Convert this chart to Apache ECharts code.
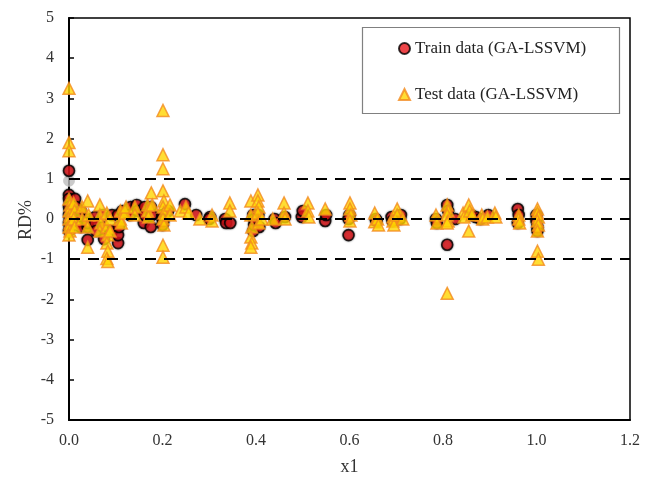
<!DOCTYPE html>
<html>
<head>
<meta charset="utf-8">
<script src="https://cdn.jsdelivr.net/npm/echarts@6/dist/echarts.min.js"></script>
<style>
  html, body { margin: 0; padding: 0; background: #fff; }
  #chart { width: 656px; height: 481px; }
</style>
</head>
<body>
<div id="chart"></div>
<script>
// Relative deviation (RD%) of the GA-LSSVM model against x1
const xTicks = [0, 0.2, 0.4, 0.6, 0.8, 1.0, 1.2];
const yTicks = [-5, -4, -3, -2, -1, 0, 1, 2, 3, 4, 5];
const guideLevels = [1, 0, -1];
const yTitle = 'RD%';

// [x1, RD%] for training points
const trainPoints = [
  [0.000, 1.20], [0.000, 0.60], [0.000, 0.50], [0.002, 0.40], [0.000, 0.30], [0.002, 0.20],
  [0.000, 0.10], [0.002, 0.00], [0.000, -0.10], [0.002, -0.20], [0.000, -0.30],
  [0.013, 0.50], [0.015, 0.30], [0.013, 0.10], [0.015, -0.10],
  [0.025, 0.20], [0.027, 0.00], [0.025, -0.20],
  [0.040, -0.52], [0.040, -0.20], [0.042, 0.00], [0.040, -0.10],
  [0.056, 0.05], [0.056, -0.10], [0.058, -0.30],
  [0.073, 0.10], [0.073, -0.20], [0.075, -0.50],
  [0.092, 0.10], [0.092, -0.30],
  [0.105, -0.60], [0.105, -0.40], [0.107, -0.20], [0.105, 0.10],
  [0.114, 0.20], [0.130, 0.20], [0.132, 0.30], [0.130, 0.10],
  [0.145, 0.35], [0.147, 0.20],
  [0.162, 0.30], [0.160, -0.10], [0.162, 0.10],
  [0.175, 0.30], [0.177, 0.10], [0.175, -0.20],
  [0.200, 0.10], [0.200, 0.00], [0.202, -0.05], [0.200, -0.15], [0.212, 0.20],
  [0.248, 0.37], [0.272, 0.10], [0.302, 0.05], [0.300, 0.00],
  [0.334, 0.00], [0.336, -0.10], [0.345, -0.10],
  [0.394, -0.30], [0.396, -0.15], [0.394, 0.10], [0.396, 0.00],
  [0.405, 0.10], [0.407, -0.20],
  [0.440, 0.00], [0.442, -0.10], [0.462, 0.05],
  [0.498, 0.05], [0.500, 0.20],
  [0.548, -0.05], [0.550, 0.10],
  [0.598, -0.40], [0.600, 0.10], [0.598, 0.00],
  [0.656, 0.00], [0.658, -0.05],
  [0.690, 0.05], [0.692, -0.05], [0.708, 0.00], [0.710, 0.10],
  [0.785, 0.00], [0.787, -0.10],
  [0.809, 0.35], [0.811, 0.20], [0.809, -0.64], [0.826, 0.00],
  [0.860, 0.10], [0.870, 0.05], [0.880, 0.00], [0.897, 0.10],
  [0.960, 0.25], [0.962, 0.10], [0.960, -0.10],
  [1.000, -0.05], [1.002, -0.20], [1.000, 0.10], [1.002, -0.30]
];

// [x1, RD%] for test points
const testPoints = [
  [0.000, 3.25], [0.000, 1.90], [0.000, 1.70], [0.000, 0.50], [0.002, 0.35], [0.000, 0.20],
  [0.002, 0.10], [0.000, 0.00], [0.002, -0.10], [0.000, -0.20], [0.002, -0.30], [0.000, -0.40],
  [0.010, 0.40], [0.012, 0.20], [0.010, 0.00], [0.012, -0.20],
  [0.028, 0.30], [0.028, 0.00],
  [0.040, 0.45], [0.042, 0.10], [0.040, -0.20], [0.040, -0.70],
  [0.066, 0.35], [0.066, 0.10], [0.068, -0.10], [0.066, -0.30],
  [0.081, 0.15], [0.081, -0.20], [0.083, -0.40], [0.081, -0.60], [0.083, -0.80], [0.081, -0.98], [0.083, -1.06],
  [0.088, 0.00], [0.088, -0.30],
  [0.110, 0.20], [0.110, 0.00], [0.112, -0.10],
  [0.120, 0.15], [0.122, 0.30],
  [0.141, 0.30], [0.141, 0.10],
  [0.168, 0.35], [0.168, 0.20], [0.170, 0.05],
  [0.176, 0.65], [0.178, 0.35],
  [0.201, 2.70], [0.201, 1.60], [0.201, 1.25], [0.201, 0.70], [0.203, 0.45], [0.201, 0.30],
  [0.203, 0.15], [0.201, 0.00], [0.203, -0.15], [0.201, -0.65], [0.201, -0.95],
  [0.216, 0.35], [0.216, 0.10],
  [0.238, 0.20], [0.250, 0.30], [0.256, 0.15],
  [0.280, 0.00], [0.306, 0.10], [0.306, -0.05],
  [0.344, 0.40], [0.344, 0.20],
  [0.389, 0.45], [0.389, 0.10], [0.391, -0.20], [0.389, -0.45], [0.391, -0.60], [0.389, -0.70],
  [0.404, 0.60], [0.404, 0.45], [0.406, 0.30], [0.404, 0.15], [0.406, -0.10],
  [0.413, 0.00], [0.436, 0.00],
  [0.460, 0.40], [0.460, 0.15], [0.462, 0.00],
  [0.511, 0.40], [0.511, 0.20], [0.513, 0.05],
  [0.548, 0.25],
  [0.601, 0.40], [0.601, 0.25], [0.603, 0.10], [0.601, -0.05],
  [0.654, 0.15], [0.654, -0.07], [0.660, 0.00], [0.662, -0.15],
  [0.693, 0.05], [0.693, -0.05], [0.695, -0.15],
  [0.702, 0.25], [0.702, 0.10], [0.714, 0.00],
  [0.785, 0.10], [0.787, -0.10],
  [0.809, 0.35], [0.811, 0.20], [0.809, 0.10], [0.811, -0.05], [0.809, -0.10], [0.809, -1.85],
  [0.843, 0.15], [0.845, 0.05],
  [0.855, 0.35], [0.857, 0.20], [0.855, -0.30], [0.862, 0.10],
  [0.883, 0.10], [0.885, 0.00], [0.895, 0.05],
  [0.911, 0.15], [0.913, 0.05],
  [0.962, 0.10], [0.962, 0.00], [0.964, -0.10],
  [1.002, 0.25], [1.002, 0.15], [1.004, 0.05], [1.002, -0.05], [1.004, -0.15], [1.002, -0.30],
  [1.002, -0.80], [1.004, -1.00]
];

// single faded reference point on the y axis
const greyPoints = [[0.000, 0.95]];

const serif = '"Liberation Serif", "Times New Roman", serif';
const textColor = '#333333';
const chart = echarts.init(document.getElementById('chart'), null, { renderer: 'canvas' });

chart.setOption({
  animation: false,
  backgroundColor: '#ffffff',
  grid: {
    left: 69, right: 26, top: 18, bottom: 58,
    show: true, borderColor: '#000', borderWidth: 1.5, backgroundColor: 'transparent'
  },
  xAxis: {
    type: 'value',
    min: xTicks[0], max: xTicks[xTicks.length - 1], interval: 0.2,
    name: 'x1', nameLocation: 'middle', nameGap: 38,
    nameTextStyle: { fontFamily: serif, fontSize: 18, color: textColor },
    axisLine: { show: true, onZero: false, lineStyle: { color: '#000', width: 2 } },
    axisTick: { show: false },
    splitLine: { show: false },
    axisLabel: {
      fontFamily: serif, fontSize: 16, color: textColor, margin: 13,
      formatter: v => v.toFixed(1)
    }
  },
  yAxis: {
    type: 'value',
    min: yTicks[0], max: yTicks[yTicks.length - 1], interval: 1,
    axisLine: { show: true, onZero: false, lineStyle: { color: '#000', width: 2 } },
    axisTick: { show: true, inside: true, length: 5, lineStyle: { color: '#000', width: 1.5 } },
    splitLine: { show: false },
    axisLabel: { fontFamily: serif, fontSize: 16, color: textColor, margin: 15 }
  },
  legend: {
    orient: 'vertical',
    left: 398, top: 40,
    padding: 0,
    itemGap: 29,
    itemWidth: 11, itemHeight: 11,
    textStyle: { fontFamily: serif, fontSize: 17, color: '#222' },
    data: ['Train data (GA-LSSVM)', 'Test data (GA-LSSVM)']
  },
  graphic: [
    {
      type: 'rect',
      shape: { x: 362.5, y: 27.5, width: 257, height: 86 },
      style: { fill: '#fff', stroke: '#808080', lineWidth: 1.2 },
      z: -1
    },
    {
      // vertical axis title
      type: 'text',
      x: 26, y: 220,
      rotation: Math.PI / 2,
      style: {
        text: yTitle, fontFamily: serif, fontSize: 18, fill: textColor,
        align: 'center', verticalAlign: 'middle'
      }
    }
  ],
  series: [
    {
      name: 'guides',
      type: 'line',
      data: [],
      silent: true,
      z: 1,
      markLine: {
        symbol: 'none',
        silent: true,
        label: { show: false },
        lineStyle: { color: '#000', type: [11, 8], width: 2.2 },
        data: guideLevels.map(v => ({ yAxis: v }))
      }
    },
    {
      name: 'grey',
      type: 'scatter',
      symbol: 'circle',
      symbolSize: 11,
      z: 2,
      itemStyle: { color: '#bdbdbd', borderColor: '#c8c8c8', borderWidth: 1 },
      data: greyPoints
    },
    {
      name: 'Train data (GA-LSSVM)',
      type: 'scatter',
      symbol: 'circle',
      symbolSize: 11,
      z: 3,
      itemStyle: {
        color: '#e8171c', borderColor: '#000', borderWidth: 1.6,
        shadowBlur: 2, shadowColor: 'rgba(0,0,0,0.6)'
      },
      data: trainPoints
    },
    {
      name: 'Test data (GA-LSSVM)',
      type: 'scatter',
      symbol: 'triangle',
      symbolSize: 12,
      z: 4,
      itemStyle: { color: '#ffd500', borderColor: '#f28a1e', borderWidth: 1.5 },
      data: testPoints
    }
  ]
});
</script>
</body>
</html>
